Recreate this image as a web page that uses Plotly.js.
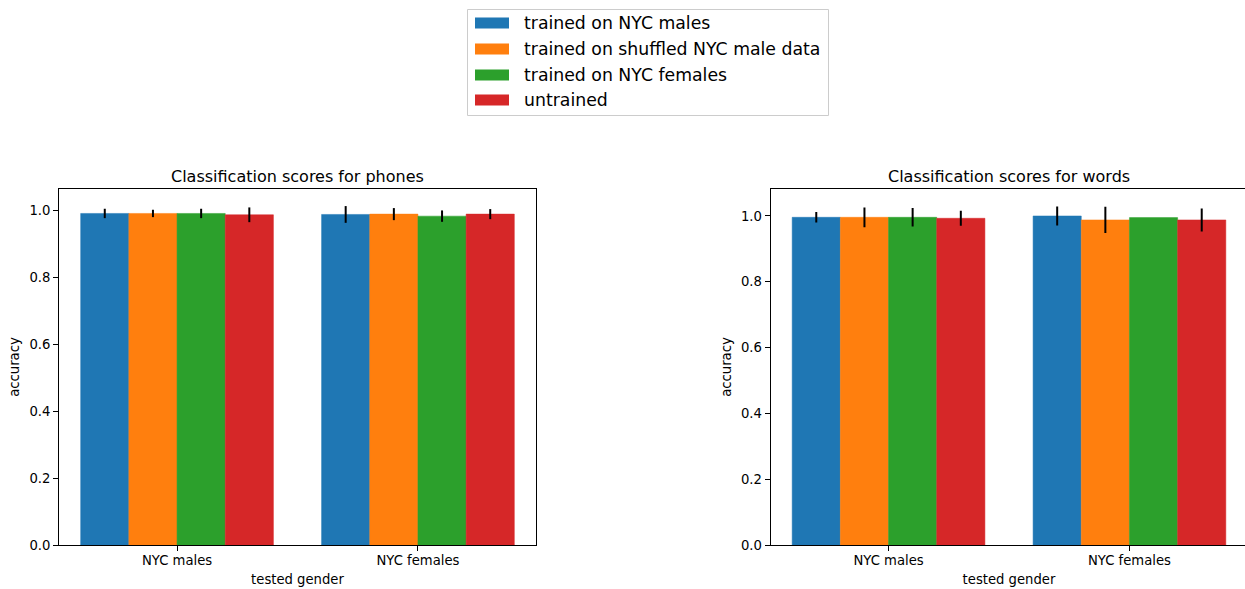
<!DOCTYPE html>
<html>
<head>
<meta charset="utf-8">
<script src="https://cdn.plot.ly/plotly-3.0.1.min.js"></script>
<style>
  html, body { margin: 0; padding: 0; overflow: hidden; background: #fff; }
  #chart { width: 1250px; height: 589px; }
</style>
</head>
<body>
<div id="chart"></div>
<script>
// Tested groups (x categories)
const categories = ['NYC males', 'NYC females'];

// Training conditions (series)
const seriesNames = [
  'trained on NYC males',
  'trained on shuffled NYC male data',
  'trained on NYC females',
  'untrained'
];
const seriesColors = ['#1f77b4', '#ff7f0e', '#2ca02c', '#d62728'];

// Phone classification accuracy and standard deviations, per series
const phonesMean = [
  [0.990, 0.987],
  [0.990, 0.988],
  [0.990, 0.982],
  [0.986, 0.988]
];
const phonesErr = [
  [0.014, 0.025],
  [0.011, 0.018],
  [0.014, 0.017],
  [0.022, 0.015]
];

// Word classification accuracy and standard deviations, per series
const wordsMean = [
  [0.996, 1.000],
  [0.996, 0.988],
  [0.996, 0.995],
  [0.993, 0.988]
];
const wordsErr = [
  [0.016, 0.029],
  [0.030, 0.040],
  [0.028, 0.000],
  [0.023, 0.035]
];

const FONT = 'DejaVu Sans, sans-serif';
const W = 1250, H = 589;
const px = v => v / W;          // horizontal pixel -> paper
const py = v => 1 - v / H;      // vertical pixel -> paper

const traces = [];
function addPanel(means, errs, xa, ya) {
  seriesNames.forEach((name, i) => {
    traces.push({
      type: 'bar',
      name: name,
      x: categories,
      y: means[i],
      xaxis: xa,
      yaxis: ya,
      // thin same-colour outline closes the anti-aliasing seams between adjacent bars
      marker: { color: seriesColors[i], line: { width: 0.5, color: seriesColors[i] } },
      error_y: { type: 'data', array: errs[i], visible: true, color: '#000', thickness: 2, width: 0 },
      showlegend: false,
      hoverinfo: 'x+y+name'
    });
  });
}
addPanel(phonesMean, phonesErr, 'x', 'y');
addPanel(wordsMean, wordsErr, 'x2', 'y2');

const yDomain = [py(545), py(189)];

function xAxis(domain, anchor) {
  return {
    domain: domain,
    anchor: anchor,
    type: 'category',
    range: [-0.49, 1.49],
    showline: true, linecolor: '#000', linewidth: 1, mirror: true,
    ticks: 'outside', ticklen: 5, tickcolor: '#000', tickwidth: 1,
    ticklabelstandoff: -2,
    showgrid: false, zeroline: false,
    tickfont: { family: FONT, size: 13.2, color: '#000' },
    title: { text: 'tested gender', font: { family: FONT, size: 13.2, color: '#000' }, standoff: 7 }
  };
}
function yAxis(anchor, top) {
  return {
    domain: yDomain,
    anchor: anchor,
    range: [0, top],
    tickvals: [0, 0.2, 0.4, 0.6, 0.8, 1.0],
    tickformat: '.1f',
    showline: true, linecolor: '#000', linewidth: 1, mirror: true,
    ticks: 'outside', ticklen: 5, tickcolor: '#000', tickwidth: 1,
    showgrid: false, zeroline: false,
    tickfont: { family: FONT, size: 13.2, color: '#000' },
    title: { text: 'accuracy', font: { family: FONT, size: 13.2, color: '#000' }, standoff: 6 }
  };
}

const shapes = [];
const annotations = [];

// Panel titles
annotations.push({
  xref: 'paper', yref: 'paper', x: px((59 + 536) / 2), y: py(188), xanchor: 'center', yanchor: 'bottom',
  text: 'Classification scores for phones', showarrow: false,
  font: { family: FONT, size: 16, color: '#000' }
});
annotations.push({
  xref: 'paper', yref: 'paper', x: px((770.5 + 1247.5) / 2), y: py(188), xanchor: 'center', yanchor: 'bottom',
  text: 'Classification scores for words', showarrow: false,
  font: { family: FONT, size: 16, color: '#000' }
});

// Shared legend box at the top
shapes.push({
  type: 'rect', xref: 'paper', yref: 'paper',
  x0: px(467.5), x1: px(828.5), y0: py(115.5), y1: py(9.5),
  line: { color: '#cccccc', width: 1 }, fillcolor: 'rgba(255,255,255,0.8)', layer: 'above'
});
const rowY = [23, 49, 75, 100];
seriesNames.forEach((name, i) => {
  shapes.push({
    type: 'rect', xref: 'paper', yref: 'paper',
    x0: px(475), x1: px(509), y0: py(rowY[i] + 5.5), y1: py(rowY[i] - 5.5),
    line: { width: 0 }, fillcolor: seriesColors[i], layer: 'above'
  });
  annotations.push({
    xref: 'paper', yref: 'paper', x: px(522), y: py(rowY[i]), xanchor: 'left', yanchor: 'middle',
    text: name, showarrow: false,
    font: { family: FONT, size: 17.3, color: '#000' }
  });
});

const layout = {
  width: W, height: H,
  margin: { l: 0, r: 0, t: 0, b: 0 },
  paper_bgcolor: '#fff', plot_bgcolor: '#fff',
  barmode: 'group', bargap: 0.2, bargroupgap: 0,
  showlegend: false,
  font: { family: FONT, color: '#000' },
  xaxis: xAxis([px(59), px(536)], 'y'),
  yaxis: yAxis('x', 1.063),
  xaxis2: xAxis([px(770.5), px(1247.5)], 'y2'),
  yaxis2: yAxis('x2', 1.082),
  shapes: shapes,
  annotations: annotations
};

Plotly.newPlot('chart', traces, layout, { staticPlot: true, displayModeBar: false });
</script>
</body>
</html>
